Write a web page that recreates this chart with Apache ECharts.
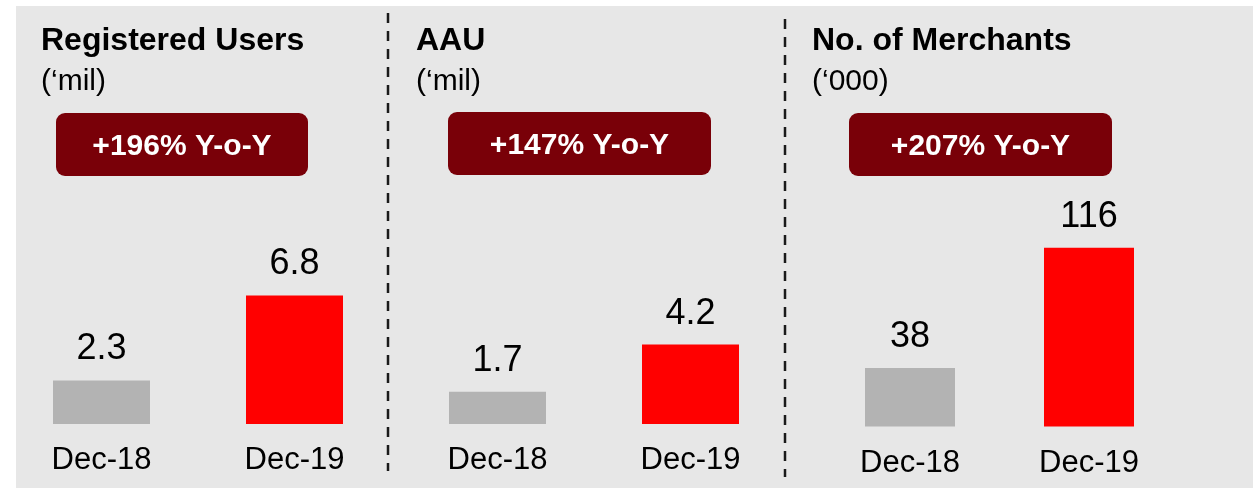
<!DOCTYPE html>
<html>
<head>
<meta charset="utf-8">
<script src="https://cdn.jsdelivr.net/npm/echarts@6/dist/echarts.min.js"></script>
<style>
  html, body { margin: 0; padding: 0; background: #ffffff; }
  #chart { width: 1258px; height: 488px; }
</style>
</head>
<body>
<div id="chart"></div>
<script>
// Period labels shared by all three panels
const periods = ['Dec-18', 'Dec-19'];

// Panel values
const registeredUsers = [2.3, 6.8];   // 'mil
const activeUsers = [1.7, 4.2];       // AAU, 'mil
const merchants = [38, 116];          // '000

// Panel headings and growth badges
const panelTitles = ['Registered Users', 'AAU', 'No. of Merchants'];
const panelUnits = ['(\u2018mil)', '(\u2018mil)', '(\u2018000)'];
const growthLabels = ['+196% Y-o-Y', '+147% Y-o-Y', '+207% Y-o-Y'];

const FONT = '"Liberation Sans", Arial, Helvetica, sans-serif';
const BAR_COLORS = ['#b3b3b3', '#ff0000'];
const BADGE_COLOR = '#790008';

const chart = echarts.init(document.getElementById('chart'), null, { renderer: 'canvas' });

// Layout of each panel's plotting area
const panels = [
  { data: registeredUsers, grid: { left: 5,     width: 386, top: 235,   height: 189 }, max: 10,  barWidth: 97,
    titleX: 41,  badge: { x: 56,  y: 113, w: 252, h: 63 } },
  { data: activeUsers,     grid: { left: 401,   width: 386, top: 235,   height: 189 }, max: 10,  barWidth: 97,
    titleX: 416, badge: { x: 448, y: 112, w: 263, h: 63 } },
  { data: merchants,       grid: { left: 820.5, width: 358, top: 195.5, height: 231 }, max: 150, barWidth: 90,
    titleX: 812, badge: { x: 849, y: 113, w: 263, h: 63 } }
];

const grids = [], xAxes = [], yAxes = [], series = [];
const graphics = [
  // panel background
  { type: 'rect', shape: { x: 16, y: 6, width: 1237, height: 482 }, style: { fill: '#e7e7e7' }, z: -10 },
  // dashed separators
  { type: 'line', shape: { x1: 388, y1: 13, x2: 388, y2: 471 },
    style: { stroke: '#1a1a1a', lineWidth: 2.5, lineDash: [10, 8] } },
  { type: 'line', shape: { x1: 785, y1: 19, x2: 785, y2: 477 },
    style: { stroke: '#1a1a1a', lineWidth: 2.5, lineDash: [10, 8] } }
];

panels.forEach((p, i) => {
  grids.push(Object.assign({ containLabel: false }, p.grid));
  xAxes.push({
    type: 'category', gridIndex: i, data: periods,
    axisLine: { show: false }, axisTick: { show: false },
    axisLabel: { color: '#000', fontFamily: FONT, fontSize: 31, margin: 21, lineHeight: 31 }
  });
  yAxes.push({
    type: 'value', gridIndex: i, min: 0, max: p.max,
    show: false, splitLine: { show: false }
  });
  series.push({
    type: 'bar', xAxisIndex: i, yAxisIndex: i,
    barWidth: p.barWidth,
    data: p.data.map((v, k) => ({ value: v, itemStyle: { color: BAR_COLORS[k] } })),
    label: {
      show: true, position: 'top', distance: 13,
      color: '#000', fontFamily: FONT, fontSize: 36, lineHeight: 36
    },
    silent: true
  });

  // heading and unit
  graphics.push({
    type: 'text', left: p.titleX, top: 25,
    style: { text: panelTitles[i], fill: '#000', font: 'bold 32px ' + FONT }
  });
  graphics.push({
    type: 'text', left: p.titleX, top: 67,
    style: { text: panelUnits[i], fill: '#000', font: '30px ' + FONT }
  });

  // growth badge
  const b = p.badge;
  graphics.push({
    type: 'rect', shape: { x: b.x, y: b.y, width: b.w, height: b.h, r: 9 },
    style: { fill: BADGE_COLOR }
  });
  graphics.push({
    type: 'text', x: b.x + b.w / 2, y: b.y + b.h / 2 + 2,
    style: { text: growthLabels[i], fill: '#fff', font: 'bold 30px ' + FONT,
             align: 'center', verticalAlign: 'middle' }
  });
});

chart.setOption({
  animation: false,
  backgroundColor: '#ffffff',
  grid: grids,
  xAxis: xAxes,
  yAxis: yAxes,
  series: series,
  graphic: graphics
});
</script>
</body>
</html>
